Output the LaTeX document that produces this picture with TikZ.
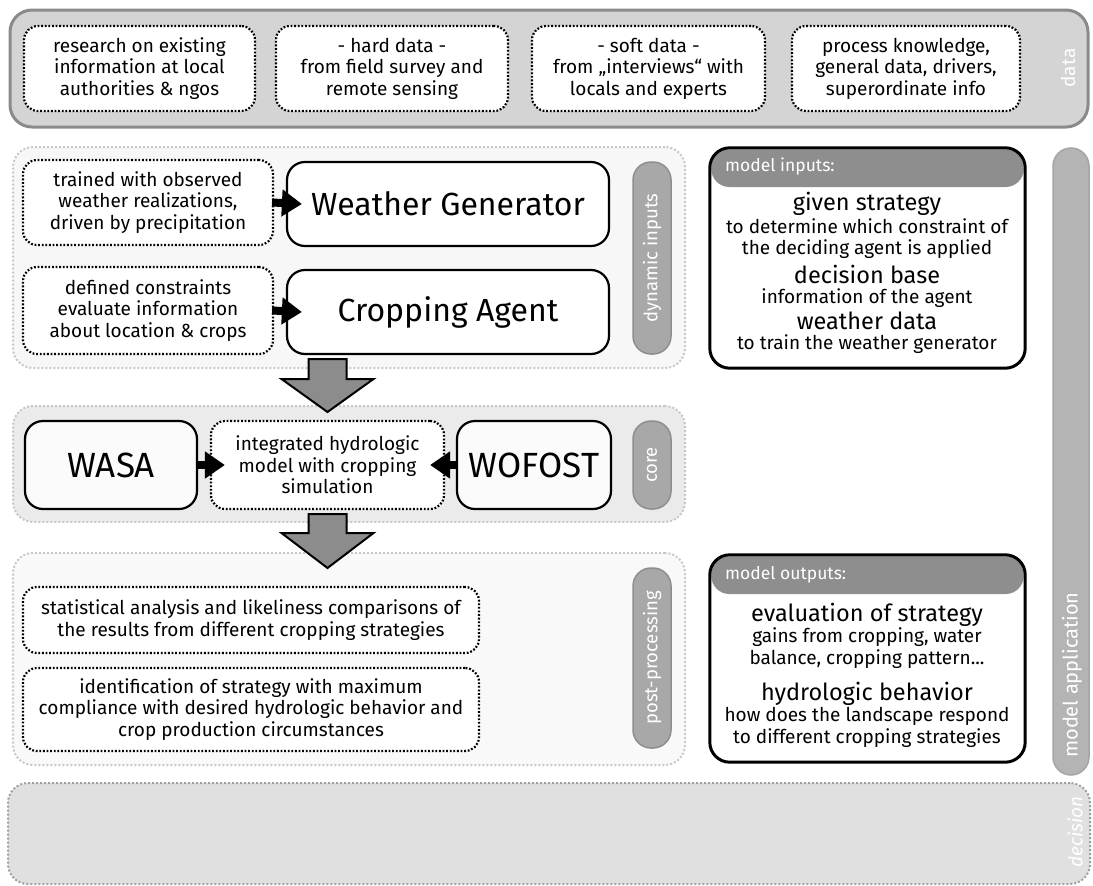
\documentclass[tikz,border=0pt]{standalone}
\usepackage{fontspec}
\setmainfont{Fira Sans}
\usetikzlibrary{arrows.meta}
\definecolor{bandfill}{HTML}{D4D4D4}
\definecolor{bandline}{HTML}{8A8A8A}
\definecolor{grpline}{HTML}{C8C8C8}
\definecolor{dynfill}{HTML}{F7F7F7}
\definecolor{corefill}{HTML}{EBEBEB}
\definecolor{postfill}{HTML}{F9F9F9}
\definecolor{decfill}{HTML}{E0E0E0}
\definecolor{decline}{HTML}{A0A0A0}
\definecolor{pillfill}{HTML}{A8A8A8}
\definecolor{pillline}{HTML}{8E8E8E}
\definecolor{mafill}{HTML}{B4B4B4}
\definecolor{hdrfill}{HTML}{8E8E8E}
\definecolor{arrfill}{HTML}{8C8C8C}
\definecolor{modfill}{HTML}{FBFBFB}
\newcommand{\smallfs}{\fontsize{19}{21.5}\selectfont}
\newcommand{\titlefs}{\fontsize{23.5}{27}\selectfont}
\newcommand{\bigfs}{\fontsize{32}{36}\selectfont}
\newcommand{\hugefs}{\fontsize{35}{40}\selectfont}
\newcommand{\pillfs}{\fontsize{18.5}{21}\selectfont}
\begin{document}
\begin{tikzpicture}[x=1pt,y=-1pt,
  box/.style={rectangle,inner sep=0pt,align=center},
  dotbox/.style={box,draw=black,fill=white,rounded corners=14pt,line width=2.2pt,dash pattern=on 1.8pt off 1.8pt,font=\smallfs},
  solidbox/.style={box,draw=black,fill=white,rounded corners=18pt,line width=2.2pt,font=\bigfs},
  grp/.style={box,draw=grpline,rounded corners=20pt,line width=2pt,dash pattern=on 2pt off 2pt},
  pill/.style={box,fill=pillfill,draw=pillline,line width=1.5pt,rounded corners=18pt,rotate=90,text=white,font=\pillfs},
  conn/.style={line width=8pt,-{Triangle[length=20pt,width=26pt]}},
  blockarrow/.style={fill=arrfill,draw=black,line width=2pt,line join=miter},
  modbox/.style={box,fill=white,rounded corners=20pt},
  hdr/.style={fill=hdrfill,rounded corners=18pt},
  hdrtext/.style={anchor=west,text=white,font=\fontsize{17.5}{20}\selectfont,inner sep=0pt},
  mtitle/.style={inner sep=0pt,font=\titlefs},
  mtext/.style={inner sep=0pt,font=\smallfs,align=center},
  sidelbl/.style={rotate=90,text=white,font=\fontsize{19}{22}\selectfont,inner sep=0pt}
]
\useasboundingbox (0,0) rectangle (1093,886);

% ---------- data band ----------
\node[box,fill=bandfill,draw=bandline,line width=3pt,rounded corners=22pt,minimum width=1078pt,minimum height=117pt] (data) at (549,68.5) {};
\node[dotbox,minimum width=231pt,minimum height=85pt] (d1) at (139.5,68.5) {research on existing\\information at local\\authorities \& ngos};
\node[dotbox,minimum width=232pt,minimum height=85pt] (d2) at (392,68.5) {- hard data -\\from field survey and\\remote sensing};
\node[dotbox,minimum width=233pt,minimum height=85pt] (d3) at (648.5,68.5) {- soft data -\\from „interviews“ with\\locals and experts};
\node[dotbox,minimum width=228pt,minimum height=85pt] (d4) at (906,68.5) {process knowledge,\\general data, drivers,\\superordinate info};
\node[sidelbl] (datalbl) at (1068,68) {data};

% ---------- model application pill ----------
\node[box,fill=mafill,draw=pillline!80,line width=1.5pt,rounded corners=18pt,minimum width=36pt,minimum height=627pt] (ma) at (1071,461.5) {};
\node[sidelbl,anchor=west,font=\fontsize{20}{23}\selectfont] (malbl) at (1072,758) {model application};

% ---------- dynamic inputs ----------
\node[grp,fill=dynfill,minimum width=672pt,minimum height=221pt] (dyn) at (349,257.5) {};
\node[dotbox,minimum width=250pt,minimum height=85pt] (train) at (148,202.5) {trained with observed\\weather realizations,\\driven by precipitation};
\node[solidbox,minimum width=322pt,minimum height=84pt] (wg) at (448,204) {Weather Generator};
\node[dotbox,minimum width=250pt,minimum height=87pt] (constr) at (148,310.5) {defined constraints\\evaluate information\\about location \& crops};
\node[solidbox,minimum width=322pt,minimum height=84pt] (ca) at (448,312) {Cropping Agent};
\node[pill,minimum width=192pt,minimum height=38pt] (dynpill) at (652,258) {dynamic inputs};
\draw[conn] ([xshift=-2pt]train.east) -- ([xshift=16pt]wg.west);
\draw[conn] ([xshift=-2pt]constr.east) -- ([xshift=16pt]ca.west);

% ---------- core ----------
\node[grp,fill=corefill,minimum width=672pt,minimum height=116pt] (core) at (349,464) {};
\node[solidbox,fill=modfill,font=\hugefs,minimum width=172pt,minimum height=88pt] (wasa) at (111,465) {WASA};
\node[dotbox,minimum width=233pt,minimum height=88pt] (mid) at (327.5,465) {integrated hydrologic\\model with cropping\\simulation};
\node[solidbox,fill=modfill,font=\hugefs,minimum width=154pt,minimum height=88pt] (wofost) at (534,465) {WOFOST};
\node[pill,minimum width=88pt,minimum height=38pt] (corepill) at (652,465) {core};
\draw[conn] ([xshift=-2pt]wasa.east) -- ([xshift=15pt]mid.west);
\draw[conn] ([xshift=2pt]wofost.west) -- ([xshift=-15pt]mid.east);

% ---------- post-processing ----------
\node[grp,fill=postfill,minimum width=672pt,minimum height=212pt] (post) at (349,659) {};
\node[dotbox,minimum width=456pt,minimum height=66pt] (p1) at (251,620) {statistical analysis and likeliness comparisons of\\the results from different cropping strategies};
\node[dotbox,minimum width=456pt,minimum height=83pt] (p2) at (251,709.5) {identification of strategy with maximum\\compliance with desired hydrologic behavior and\\crop production circumstances};
\node[pill,minimum width=180pt,minimum height=38pt] (postpill) at (652,658) {post-processing};

% ---------- block arrows ----------
\coordinate (a1) at (mid.center |- 0,359);
\coordinate (a2) at (mid.center |- 0,514);
\draw[blockarrow] (a1) ++(-19,0) -- ++(38,0) -- ++(0,20) -- ++(27,0) -- ++(-46,33) -- ++(-46,-33) -- ++(27,0) -- cycle;
\draw[blockarrow] (a2) ++(-19,0) -- ++(38,0) -- ++(0,19) -- ++(27,0) -- ++(-46,35) -- ++(-46,-35) -- ++(27,0) -- cycle;

% ---------- model inputs ----------
\node[modbox,minimum width=315pt,minimum height=220pt] (mi) at (867.5,258) {};
\fill[hdr] ([shift={(1.5,1.5)}]mi.north west) rectangle ([shift={(-1.5,0)}]mi.north east |- 0,187);
\draw[line width=3pt,rounded corners=20pt] (mi.north west) rectangle (mi.south east);
\node[hdrtext] (mih) at (725,167) {model inputs:};
\node[mtitle] (mi1) at (867,204) {given strategy};
\node[mtext] (mi2) at (867,238.5) {to determine which constraint of\\the deciding agent is applied};
\node[mtitle] (mi3) at (867,274) {decision base};
\node[mtext] (mi4) at (867,298) {information of the agent};
\node[mtitle] (mi5) at (867,321) {weather data};
\node[mtext] (mi6) at (867,344) {to train the weather generator};

% ---------- model outputs ----------
\node[modbox,minimum width=315pt,minimum height=207pt] (mo) at (867.5,658.5) {};
\fill[hdr] ([shift={(1.5,1.5)}]mo.north west) rectangle ([shift={(-1.5,0)}]mo.north east |- 0,594);
\draw[line width=3pt,rounded corners=20pt] (mo.north west) rectangle (mo.south east);
\node[hdrtext] (moh) at (725,575) {model outputs:};
\node[mtitle] (mo1) at (867,615) {evaluation of strategy};
\node[mtext] (mo2) at (867,648) {gains from cropping, water\\balance, cropping pattern...};
\node[mtitle] (mo3) at (867,694) {hydrologic behavior};
\node[mtext] (mo4) at (867,727.5) {how does the landscape respond\\to different cropping strategies};

% ---------- decision ----------
\node[box,fill=decfill,draw=decline,line width=2pt,dash pattern=on 2pt off 2pt,rounded corners=20pt,minimum width=1082pt,minimum height=101pt] (dec) at (549,833.5) {};
\node[sidelbl,font=\itshape\fontsize{19}{22}\selectfont] (declbl) at (1075,832) {decision};
\end{tikzpicture}
\end{document}
